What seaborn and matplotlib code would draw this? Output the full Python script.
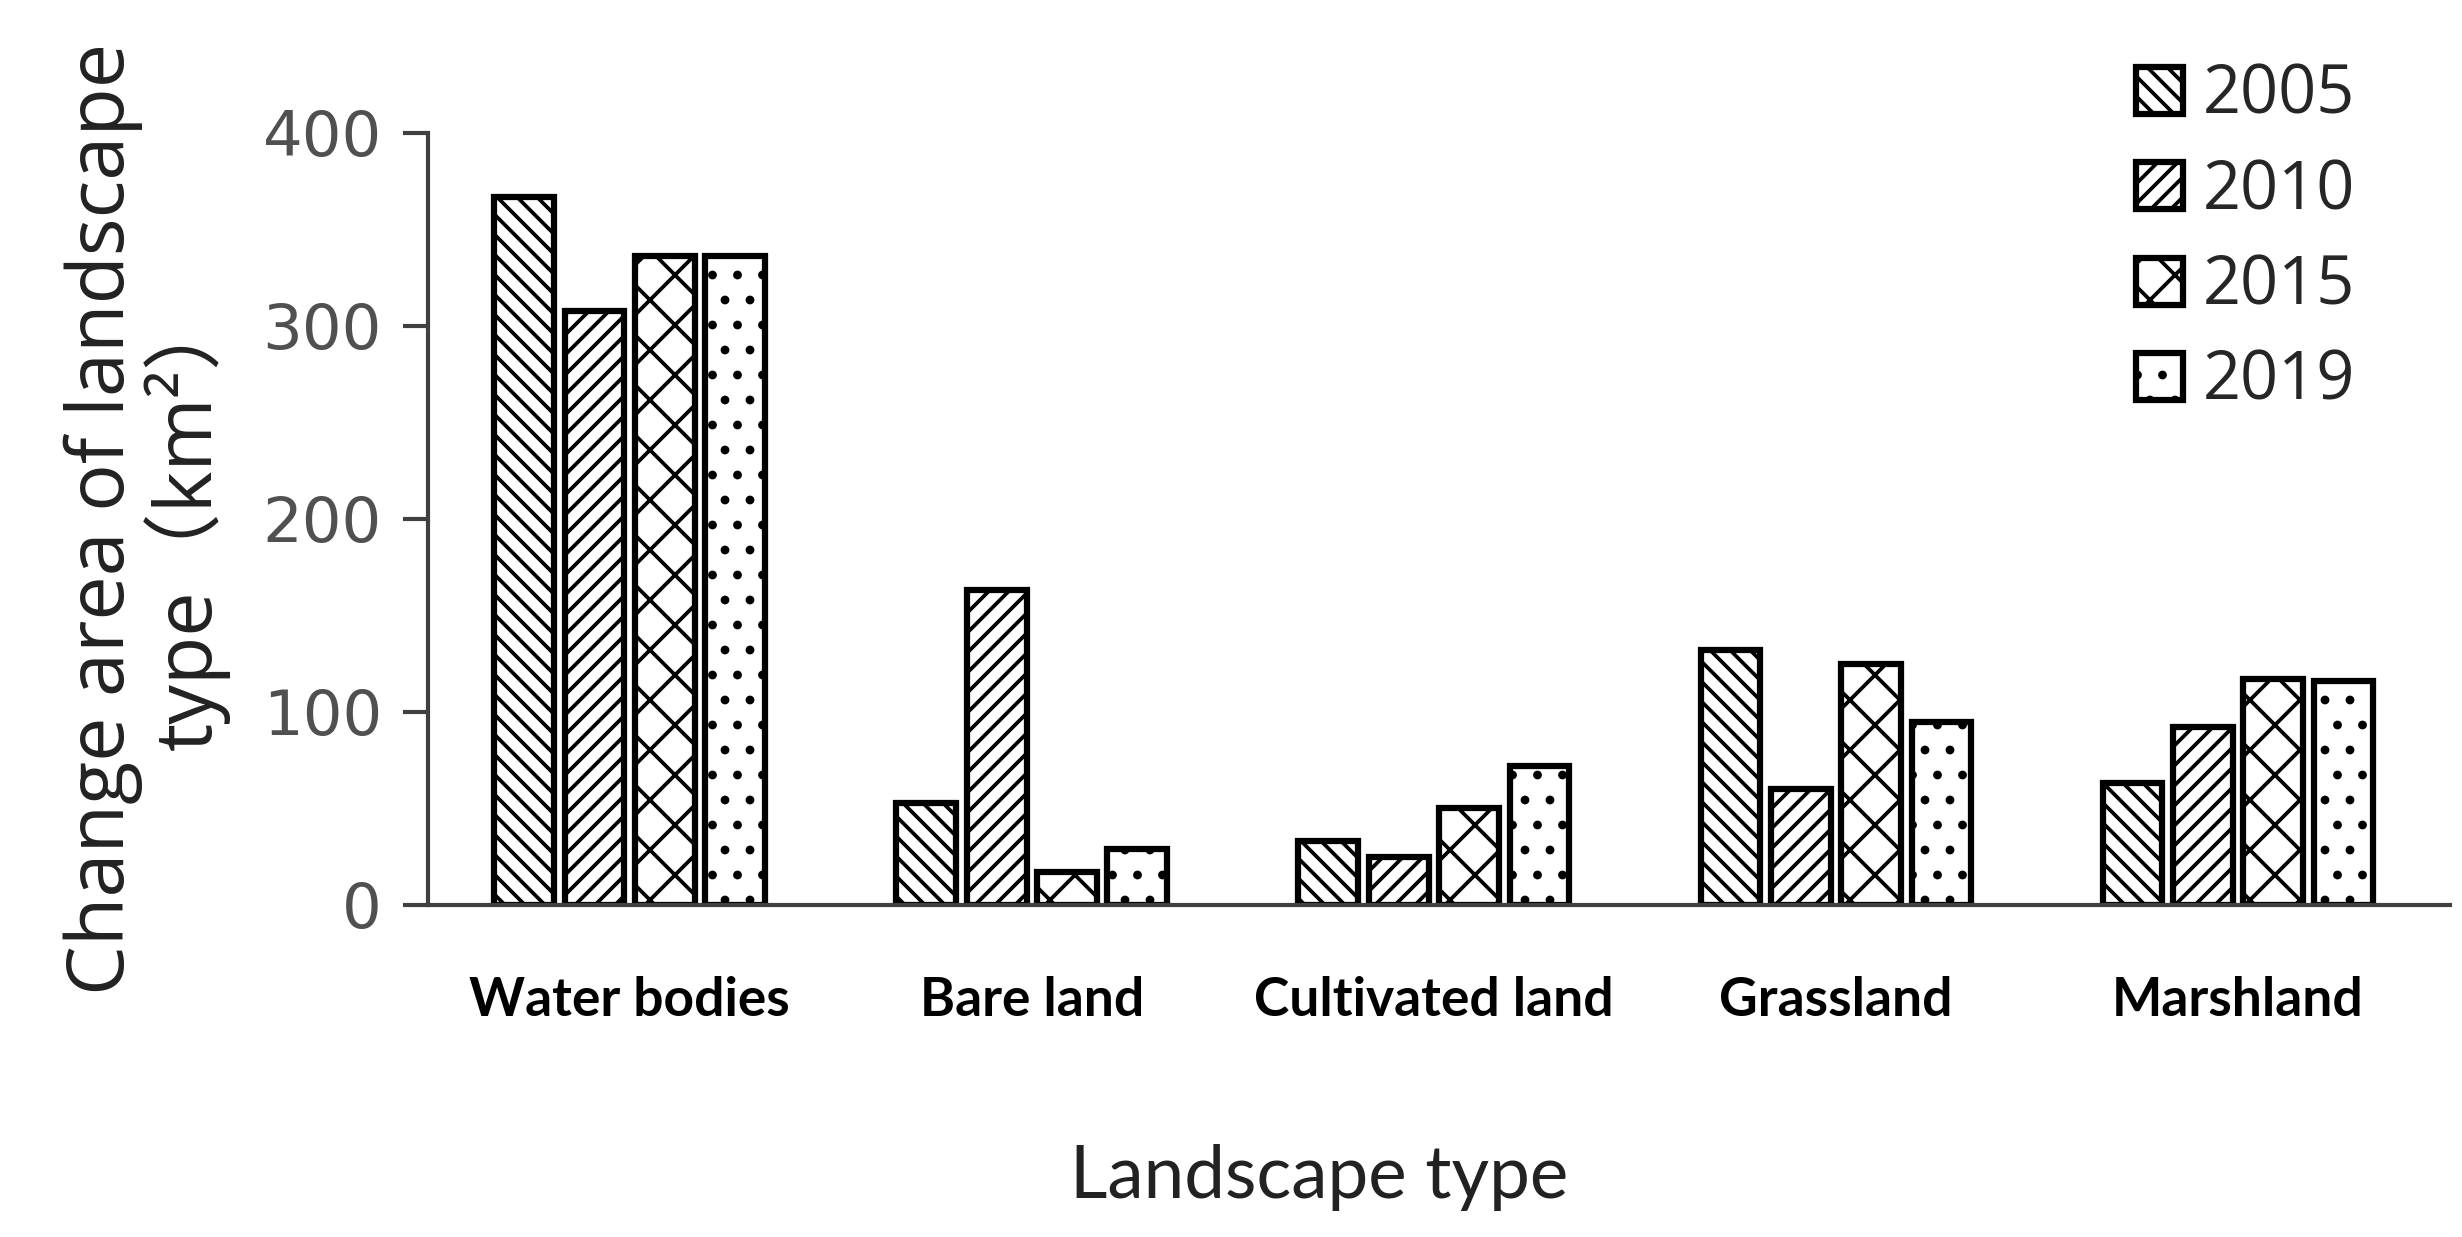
# Grouped hatched bar chart: change area of landscape type per year
import pandas as pd
import numpy as np
import matplotlib.pyplot as plt
import seaborn as sns

# Data
landscape_types = ["Water bodies", "Bare land", "Cultivated land", "Grassland", "Marshland"]
years = ["2005", "2010", "2015", "2019"]
area_2005 = [367, 53, 33, 132, 63]
area_2010 = [308, 163, 25, 60, 92]
area_2015 = [336, 17, 50, 125, 117]
area_2019 = [336, 29, 72, 95, 116]

hatches = ["\\\\\\\\\\", "/////", "xx", ".."]

# Long-form table for seaborn
rows = []
for year, vals in zip(years, [area_2005, area_2010, area_2015, area_2019]):
    for t, v in zip(landscape_types, vals):
        rows.append({"type": t, "year": year, "area": v})
df = pd.DataFrame(rows)

sns.set_style("ticks")
plt.rcParams["hatch.linewidth"] = 0.9
plt.rcParams["hatch.color"] = "black"

dpi = 300
fig = plt.figure(figsize=(2462 / dpi, 1237 / dpi), dpi=dpi)
ax = fig.add_axes([0.1738, 0.2684, 0.8213, 0.6241])

sns.barplot(data=df, x="type", y="area", hue="year", order=landscape_types,
            hue_order=years, palette=["white"] * 4, edgecolor="black",
            linewidth=1.5, width=0.7, gap=0.15, ax=ax, legend=False)

for container, h in zip(ax.containers, hatches):
    for bar in container:
        bar.set_hatch(h)

ax.set_xlim(-0.502, 4.527)
ax.set_ylim(0, 400)
ax.set_yticks([0, 100, 200, 300, 400])

sns.despine(ax=ax)
for side in ["left", "bottom"]:
    ax.spines[side].set_color("#404040")
    ax.spines[side].set_linewidth(1.0)

ax.tick_params(axis="y", length=6, width=1.0, color="#404040", pad=5,
               labelsize=15, labelcolor="#505050")
ax.tick_params(axis="x", length=0, pad=17)
for lab in ax.get_yticklabels():
    lab.set_family("DejaVu Sans")
for lab in ax.get_xticklabels():
    lab.set_family("Lato")
    lab.set_fontweight("bold")
    lab.set_fontsize(12.8)
    lab.set_color("black")

ax.set_xlabel("Landscape type", family="Lato", fontsize=17.5, color="#222222")
ax.xaxis.set_label_coords(0.4407, -0.309)
ax.set_ylabel("Change area of landscape\ntype\uff08km\u00b2\uff09", family=["Open Sans", "Noto Sans CJK SC"],
              fontsize=19, color="#222222", labelpad=8, linespacing=1.0)

ax.legend(ax.containers, years, loc="upper left", bbox_to_anchor=(2136 / 2462, 1 - 62 / 1237),
          bbox_transform=fig.transFigure, frameon=False, prop={"family": "Open Sans", "size": 16},
          handlelength=0.7, handleheight=0.7, handletextpad=0.3, labelspacing=0.42,
          borderpad=0, borderaxespad=0)

fig.savefig("out.png", dpi=dpi, facecolor="white")
